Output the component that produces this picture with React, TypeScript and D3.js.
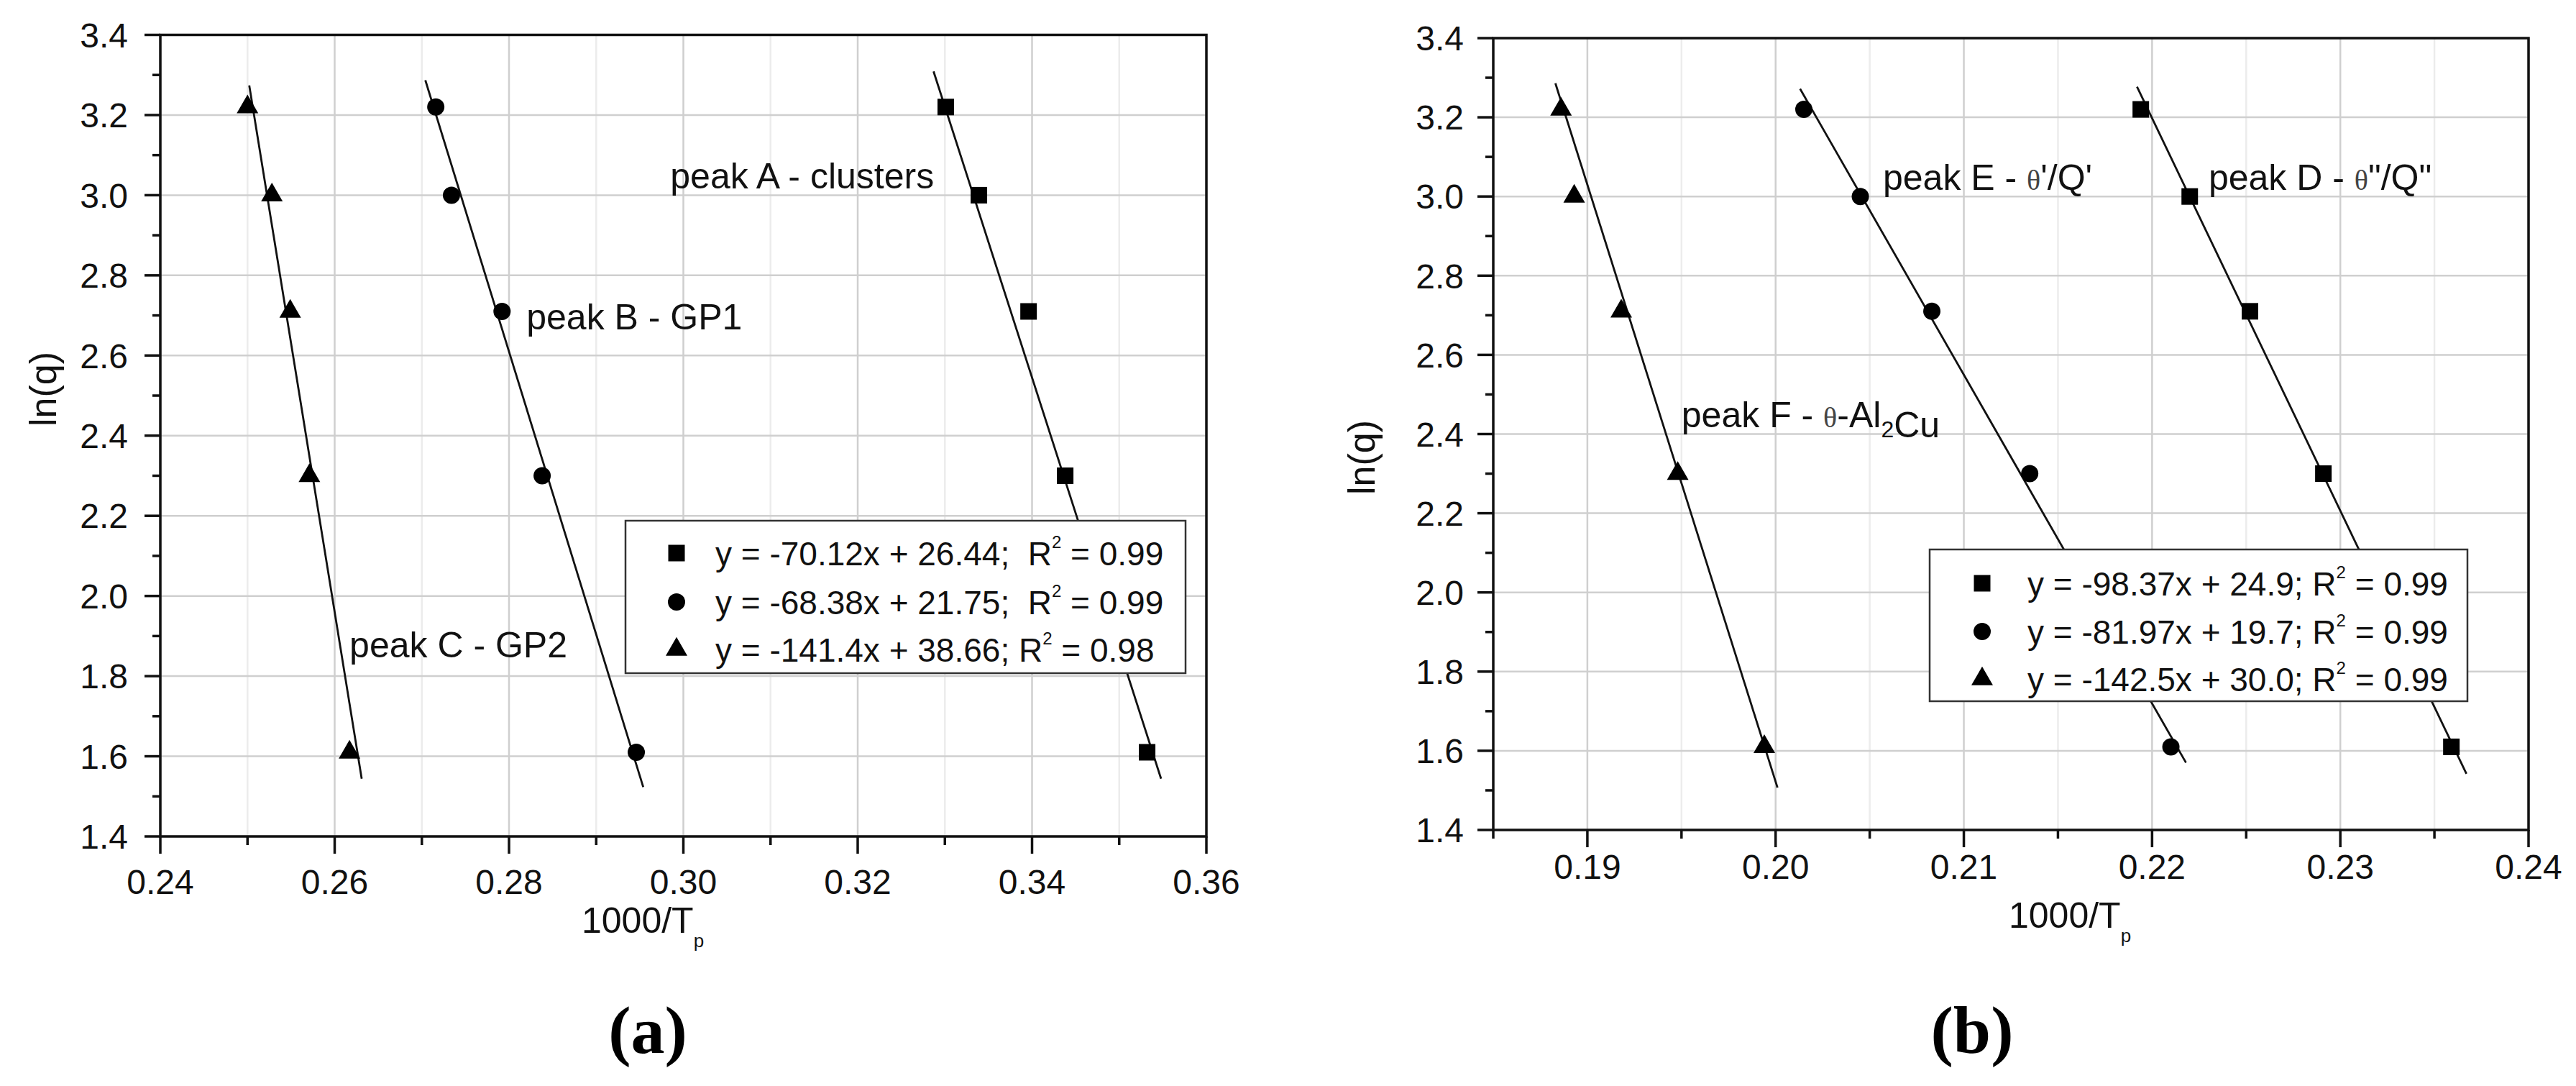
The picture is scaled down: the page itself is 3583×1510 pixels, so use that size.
import React from 'react';
import * as d3 from 'd3';

// ln(q) for heating rates 25, 20, 15, 10, 5 K/min
const lnQ = [3.22, 3.0, 2.71, 2.3, 1.61];

// panel (a): 1000/Tp for each peak
const peakAx = [0.3301, 0.3339, 0.3396, 0.3438, 0.3532];
const peakBx = [0.2716, 0.2734, 0.2792, 0.2838, 0.2946];
const peakCx = [0.25, 0.2528, 0.2549, 0.2571, 0.2617];
// fitted lines, start and end points
const fitA: [number, number][] = [[0.3287, 3.309], [0.3548, 1.544]];
const fitB: [number, number][] = [[0.2704, 3.287], [0.2954, 1.523]];
const fitC: [number, number][] = [[0.2502, 3.274], [0.2631, 1.544]];

// panel (b)
const peakDx = [0.2194, 0.222, 0.2252, 0.2291, 0.2359];
const peakEx = [0.2015, 0.2045, 0.2083, 0.2135, 0.221];
const peakFx = [0.1886, 0.1893, 0.1918, 0.1948, 0.1994];
const fitD: [number, number][] = [[0.2192, 3.277], [0.2367, 1.542]];
const fitE: [number, number][] = [[0.2013, 3.272], [0.2218, 1.57]];
const fitF: [number, number][] = [[0.1883, 3.286], [0.2001, 1.507]];

// ticks
const yMajor = [1.4, 1.6, 1.8, 2.0, 2.2, 2.4, 2.6, 2.8, 3.0, 3.2, 3.4];
const yMinor = [1.5, 1.7, 1.9, 2.1, 2.3, 2.5, 2.7, 2.9, 3.1, 3.3];
const aXMajor = [0.24, 0.26, 0.28, 0.3, 0.32, 0.34, 0.36];
const aXMinor = [0.25, 0.27, 0.29, 0.31, 0.33, 0.35];
const bXMajor = [0.19, 0.2, 0.21, 0.22, 0.23, 0.24];
const bXMinor = [0.185, 0.195, 0.205, 0.215, 0.225, 0.235];

// legend texts
const aLegendEq = ['y = -70.12x + 26.44;  R', 'y = -68.38x + 21.75;  R', 'y = -141.4x + 38.66; R'];
const aLegendR2 = ['0.99', '0.99', '0.98'];
const bLegendEq = ['y = -98.37x + 24.9; R', 'y = -81.97x + 19.7; R', 'y = -142.5x + 30.0; R'];
const bLegendR2 = ['0.99', '0.99', '0.99'];

const SANS = "'Liberation Sans', Arial, Helvetica, sans-serif";
const SERIF = "'Liberation Serif', 'Times New Roman', serif";

type Sym = 'square' | 'circle' | 'triangle';
const symbolTypes = { square: d3.symbolSquare, circle: d3.symbolCircle, triangle: d3.symbolTriangle };
const symbolSizes = { square: 529, circle: 452, triangle: 390 };
const symbolPath = (s: Sym) => d3.symbol().type(symbolTypes[s]).size(symbolSizes[s])() || '';

interface Series {
  sym: Sym;
  xs: number[];
  fit: [number, number][];
}

interface Note {
  x: number;
  y: number;
  parts: { t: string; sub?: boolean; theta?: boolean }[];
}

interface PanelCfg {
  left: number;
  right: number;
  top: number;
  bottom: number;
  xDomain: [number, number];
  xMajor: number[];
  xMinor: number[];
  series: Series[];
  notes: Note[];
  legendBox: { x: number; y: number; w: number; h: number; symX: number; textX: number; rows: number[] };
  legendEq: string[];
  legendR2: string[];
  yLabelPos: [number, number];
  yTickGap: number;
  xLabelPos: [number, number];
  xTickBaseline: number;
  tag: string;
  tagPos: [number, number];
}

const Panel: React.FC<{ cfg: PanelCfg }> = ({ cfg }) => {
  const x = d3.scaleLinear().domain(cfg.xDomain).range([cfg.left, cfg.right]);
  const y = d3.scaleLinear().domain([1.4, 3.4]).range([cfg.bottom, cfg.top]);
  const line = d3
    .line<[number, number]>()
    .x((d) => x(d[0]))
    .y((d) => y(d[1]));
  const fx = d3.format('.2f');
  const fy = d3.format('.1f');
  const lb = cfg.legendBox;

  return (
    <g>
      {/* grid */}
      {cfg.xMinor
        .filter((v) => v > cfg.xDomain[0])
        .map((v) => (
          <line key={'gm' + v} x1={x(v)} x2={x(v)} y1={cfg.top} y2={cfg.bottom} stroke="#ececec" strokeWidth={2.5} />
        ))}
      {cfg.xMajor.map((v) => (
        <line key={'gx' + v} x1={x(v)} x2={x(v)} y1={cfg.top} y2={cfg.bottom} stroke="#cfcfcf" strokeWidth={2.5} />
      ))}
      {yMajor.map((v) => (
        <line key={'gy' + v} x1={cfg.left} x2={cfg.right} y1={y(v)} y2={y(v)} stroke="#cfcfcf" strokeWidth={2.5} />
      ))}

      {/* fit lines */}
      {cfg.series.map((s, i) => (
        <path key={'fit' + i} d={line(s.fit) || ''} fill="none" stroke="#111" strokeWidth={2.8} />
      ))}

      {/* markers */}
      {cfg.series.map((s, i) =>
        s.xs.map((xv, j) => (
          <path key={'m' + i + '-' + j} d={symbolPath(s.sym)} transform={`translate(${x(xv)},${y(lnQ[j])})`} fill="#000" />
        )),
      )}

      {/* annotations */}
      {cfg.notes.map((n, i) => (
        <text key={'n' + i} x={x(n.x)} y={y(n.y)} fontFamily={SANS} fontSize={50} fill="#111" style={{ whiteSpace: 'pre' }}>
          {n.parts.map((p, k) =>
            p.sub ? (
              <React.Fragment key={k}>
                <tspan dy={14} fontSize={32}>
                  {p.t}
                </tspan>
                <tspan dy={-14}>{''}</tspan>
              </React.Fragment>
            ) : p.theta ? (
              <tspan key={k} fontFamily={SERIF} fontSize={40} fill="#444">
                {p.t}
              </tspan>
            ) : (
              <tspan key={k}>{p.t}</tspan>
            ),
          )}
        </text>
      ))}

      {/* legend */}
      <rect x={lb.x} y={lb.y} width={lb.w} height={lb.h} fill="#fff" stroke="#333" strokeWidth={2.5} />
      {cfg.series.map((s, i) => (
        <g key={'lg' + i}>
          <path d={symbolPath(s.sym)} transform={`translate(${lb.x + lb.symX},${lb.y + lb.rows[i]})`} fill="#000" />
          <text
            x={lb.x + lb.textX}
            y={lb.y + lb.rows[i]}
            dy="0.36em"
            fontFamily={SANS}
            fontSize={46}
            fill="#111"
            style={{ whiteSpace: 'pre' }}
          >
            {cfg.legendEq[i]}
            <tspan dy={-24} fontSize={24}>
              2
            </tspan>
            <tspan dy={24}>{' = ' + cfg.legendR2[i]}</tspan>
          </text>
        </g>
      ))}

      {/* frame */}
      <rect
        x={cfg.left}
        y={cfg.top}
        width={cfg.right - cfg.left}
        height={cfg.bottom - cfg.top}
        fill="none"
        stroke="#111"
        strokeWidth={3.5}
      />

      {/* y ticks */}
      {yMajor.map((v) => (
        <g key={'ty' + v}>
          <line x1={cfg.left - 22} x2={cfg.left} y1={y(v)} y2={y(v)} stroke="#111" strokeWidth={3.5} />
          <text
            x={cfg.left - cfg.yTickGap}
            y={y(v)}
            dy="0.36em"
            textAnchor="end"
            fontFamily={SANS}
            fontSize={48}
            fill="#111"
          >
            {fy(v)}
          </text>
        </g>
      ))}
      {yMinor.map((v) => (
        <line key={'tym' + v} x1={cfg.left - 11} x2={cfg.left} y1={y(v)} y2={y(v)} stroke="#111" strokeWidth={3.5} />
      ))}

      {/* x ticks */}
      {cfg.xMajor.map((v) => (
        <g key={'tx' + v}>
          <line x1={x(v)} x2={x(v)} y1={cfg.bottom} y2={cfg.bottom + 24} stroke="#111" strokeWidth={3.5} />
          <text x={x(v)} y={cfg.xTickBaseline} textAnchor="middle" fontFamily={SANS} fontSize={48} fill="#111">
            {fx(v)}
          </text>
        </g>
      ))}
      {cfg.xMinor.map((v) => (
        <line key={'txm' + v} x1={x(v)} x2={x(v)} y1={cfg.bottom} y2={cfg.bottom + 12} stroke="#111" strokeWidth={3.5} />
      ))}

      {/* axis titles */}
      <text
        transform={`translate(${cfg.yLabelPos[0]},${cfg.yLabelPos[1]}) rotate(-90)`}
        textAnchor="middle"
        dy="0.36em"
        fontFamily={SANS}
        fontSize={52}
        fill="#111"
      >
        ln(q)
      </text>
      <text x={cfg.xLabelPos[0]} y={cfg.xLabelPos[1]} fontFamily={SANS} fontSize={50} fill="#111">
        1000/T
        <tspan dy={20} fontSize={26}>
          p
        </tspan>
      </text>

      {/* panel tag */}
      <text
        x={cfg.tagPos[0]}
        y={cfg.tagPos[1]}
        textAnchor="middle"
        fontFamily={SERIF}
        fontWeight="bold"
        fontSize={94}
        fill="#000"
      >
        {cfg.tag}
      </text>
    </g>
  );
};

const panelA: PanelCfg = {
  left: 223,
  right: 1678,
  top: 48.5,
  bottom: 1163,
  xDomain: [0.24, 0.36],
  xMajor: aXMajor,
  xMinor: aXMinor,
  series: [
    { sym: 'square', xs: peakAx, fit: fitA },
    { sym: 'circle', xs: peakBx, fit: fitB },
    { sym: 'triangle', xs: peakCx, fit: fitC },
  ],
  notes: [
    { x: 0.2985, y: 3.017, parts: [{ t: 'peak A - clusters' }] },
    { x: 0.282, y: 2.665, parts: [{ t: 'peak B - GP1' }] },
    { x: 0.2617, y: 1.846, parts: [{ t: 'peak C - GP2' }] },
  ],
  legendBox: { x: 870, y: 724, w: 779, h: 212, symX: 71, textX: 125, rows: [45, 113, 179] },
  legendEq: aLegendEq,
  legendR2: aLegendR2,
  yLabelPos: [59, 541],
  yTickGap: 45,
  xLabelPos: [809, 1297],
  xTickBaseline: 1243,
  tag: '(a)',
  tagPos: [901, 1464],
};

const panelB: PanelCfg = {
  left: 2077,
  right: 3517,
  top: 53,
  bottom: 1154,
  xDomain: [0.185, 0.24],
  xMajor: bXMajor,
  xMinor: bXMinor,
  series: [
    { sym: 'square', xs: peakDx, fit: fitD },
    { sym: 'circle', xs: peakEx, fit: fitE },
    { sym: 'triangle', xs: peakFx, fit: fitF },
  ],
  notes: [
    { x: 0.2057, y: 3.017, parts: [{ t: 'peak E - ' }, { t: 'θ', theta: true }, { t: "'/Q'" }] },
    { x: 0.223, y: 3.017, parts: [{ t: 'peak D - ' }, { t: 'θ', theta: true }, { t: '"/Q"' }] },
    { x: 0.195, y: 2.418, parts: [{ t: 'peak F - ' }, { t: 'θ', theta: true }, { t: '-Al' }, { t: '2', sub: true }, { t: 'Cu' }] },
  ],
  legendBox: { x: 2684, y: 764, w: 748, h: 211, symX: 73, textX: 136, rows: [47, 114, 180] },
  legendEq: bLegendEq,
  legendR2: bLegendR2,
  yLabelPos: [1893, 636],
  yTickGap: 41,
  xLabelPos: [2794, 1290],
  xTickBaseline: 1222,
  tag: '(b)',
  tagPos: [2743, 1464],
};

export default function App() {
  return (
    <div style={{ position: 'absolute', left: 0, top: 0 }}>
      <svg width={3583} height={1510} viewBox="0 0 3583 1510" style={{ display: 'block', background: '#fff' }}>
        <rect width={3583} height={1510} fill="#fff" />
        <Panel cfg={panelA} />
        <Panel cfg={panelB} />
      </svg>
    </div>
  );
}
